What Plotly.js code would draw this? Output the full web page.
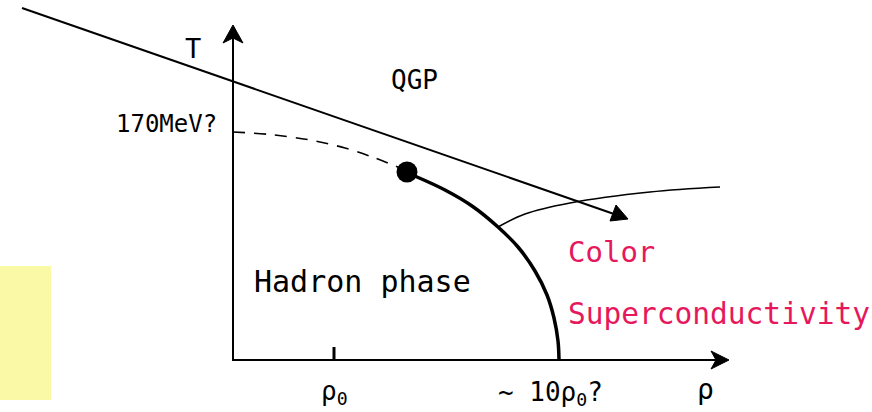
<!DOCTYPE html>
<html>
<head>
<meta charset="utf-8">
<script src="https://cdn.plot.ly/plotly-3.0.1.min.js"></script>
<style>html,body{margin:0;padding:0;background:#fff;}#chart{width:872px;height:412px;}</style>
</head>
<body>
<div id="chart"></div>
<script>
// Diagram geometry (in picture coordinates, y downward)
const noteBoxX = [0, 51, 51, 0, 0];
const noteBoxY = [266, 266, 400, 400, 266];

const tAxisX = [233, 233];
const tAxisY = [360, 30];
const tArrowX = [233, 243, 233, 223, 233];
const tArrowY = [25, 43, 38, 43, 25];

const rhoAxisX = [232, 722];
const rhoAxisY = [360, 360];
const rhoArrowX = [729, 711, 716, 711, 729];
const rhoArrowY = [360, 351, 360, 369, 360];

const rho0TickX = [334, 334];
const rho0TickY = [347, 360];

const guideX = [22, 614];
const guideY = [8, 214];
const guideArrowX = [628, 610, 613, 616, 628];
const guideArrowY = [219, 221, 213, 205, 219];

const crossoverX = [233, 270, 310, 345, 375, 400];
const crossoverY = [132, 134.5, 140, 148, 158, 168];

const firstOrderX = [407, 417, 445, 472, 498, 518, 535, 547, 554, 558, 559];
const firstOrderY = [173, 177, 190, 206, 227, 247, 271, 295, 318, 341, 360];

const cscX = [498, 525, 570, 650, 720];
const cscY = [227, 214, 203, 192, 187];

const criticalX = [407];
const criticalY = [172];

const labels = [
  {text: 'T', x: 193, y: 48, size: 27, color: '#000', anchor: 'center'},
  {text: 'QGP', x: 389, y: 80, size: 26, color: '#000', anchor: 'left'},
  {text: '170MeV?', x: 114, y: 124, size: 24, color: '#000', anchor: 'left'},
  {text: 'Hadron phase', x: 252, y: 281, size: 30, color: '#000', anchor: 'left'},
  {text: 'Color', x: 566, y: 252, size: 29, color: '#e6185c', anchor: 'left'},
  {text: 'Superconductivity', x: 566, y: 314, size: 29.5, color: '#e6185c', anchor: 'left'},
  {text: 'ρ<sub>0</sub>', x: 319, y: 392, size: 26, color: '#000', anchor: 'left'},
  {text: '~ 10ρ<sub>0</sub>?', x: 496, y: 393, size: 26, color: '#000', anchor: 'left'},
  {text: 'ρ', x: 705, y: 389, size: 28, color: '#000', anchor: 'center'}
];

const black = '#000';
const traces = [
  {x: noteBoxX, y: noteBoxY, mode: 'lines', fill: 'toself', fillcolor: '#fafaa6', line: {width: 0, color: '#fafaa6'}},
  {x: tAxisX, y: tAxisY, mode: 'lines', line: {color: black, width: 2}},
  {x: tArrowX, y: tArrowY, mode: 'lines', fill: 'toself', fillcolor: black, line: {color: black, width: 1}},
  {x: rhoAxisX, y: rhoAxisY, mode: 'lines', line: {color: black, width: 2}},
  {x: rhoArrowX, y: rhoArrowY, mode: 'lines', fill: 'toself', fillcolor: black, line: {color: black, width: 1}},
  {x: rho0TickX, y: rho0TickY, mode: 'lines', line: {color: black, width: 3}},
  {x: guideX, y: guideY, mode: 'lines', line: {color: black, width: 2}},
  {x: guideArrowX, y: guideArrowY, mode: 'lines', fill: 'toself', fillcolor: black, line: {color: black, width: 1}},
  {x: crossoverX, y: crossoverY, mode: 'lines', line: {color: black, width: 1.6, dash: '12px,9px', shape: 'spline'}},
  {x: firstOrderX, y: firstOrderY, mode: 'lines', line: {color: black, width: 3.5, shape: 'spline'}},
  {x: cscX, y: cscY, mode: 'lines', line: {color: black, width: 1.6, shape: 'spline'}},
  {x: criticalX, y: criticalY, mode: 'markers', marker: {color: black, size: 21}}
];

const annotations = labels.map(l => ({
  text: l.text, x: l.x, y: l.y, xref: 'x', yref: 'y', showarrow: false,
  xanchor: l.anchor, yanchor: 'middle',
  font: {family: 'DejaVu Sans Mono, monospace', size: l.size, color: l.color}
}));

const layout = {
  width: 872, height: 412,
  margin: {l: 0, r: 0, t: 0, b: 0},
  paper_bgcolor: '#fff', plot_bgcolor: '#fff',
  showlegend: false,
  xaxis: {range: [0, 872], visible: false, fixedrange: true},
  yaxis: {range: [412, 0], visible: false, fixedrange: true},
  annotations: annotations
};

Plotly.newPlot('chart', traces, layout, {staticPlot: true, displayModeBar: false});
</script>
</body>
</html>
